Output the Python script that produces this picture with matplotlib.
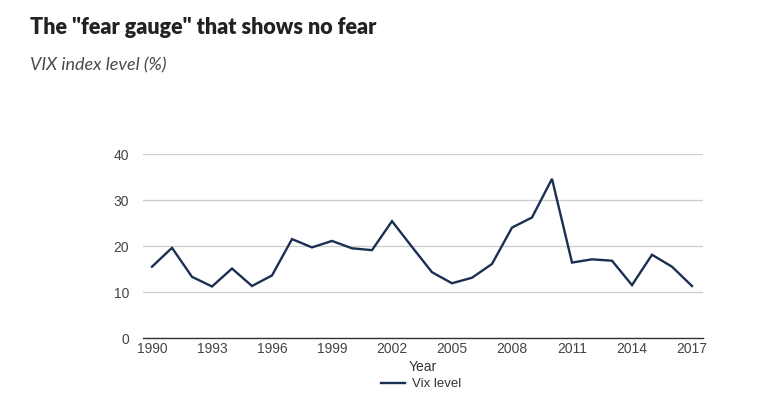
import matplotlib
matplotlib.use("Agg")
import matplotlib.pyplot as plt

years = list(range(1990, 2018))
vix = [15.5, 19.6, 13.3, 11.2, 15.1, 11.3, 13.6, 21.5, 19.7, 21.1, 19.5, 19.1, 25.4,
       19.8, 14.3, 11.9, 13.1, 16.1, 24.0, 26.2, 34.6, 16.4, 17.1, 16.8, 11.5, 18.1, 15.5, 11.3]
xticks = list(range(1990, 2018, 3))
yticks = [0, 10, 20, 30, 40]

W, H = 783, 403
fig = plt.figure(figsize=(W/100, H/100), dpi=100)
ax = fig.add_axes([143/W, 1-338/H, (703-143)/W, (338-154)/H])

line_color = "#1b2f52"
ax.plot(years, vix, color=line_color, lw=1.7, label="Vix level", solid_joinstyle="miter")
ax.set_xlim(1989.55, 2017.55)
ax.set_ylim(0, 40)
ax.set_yticks(yticks)
ax.set_xticks(xticks)
ax.grid(axis="y", color="#cccccc", lw=0.9)
ax.set_axisbelow(True)
for s in ["top", "right", "left"]:
    ax.spines[s].set_visible(False)
ax.spines["bottom"].set_color("#333333")
ax.spines["bottom"].set_linewidth(1.0)
ax.spines["bottom"].set_zorder(3)
ax.tick_params(axis="both", length=0, labelsize=10, labelcolor="#444444", labelfontfamily="Liberation Sans")
ax.tick_params(axis="y", pad=10)
ax.tick_params(axis="x", pad=3)
ax.set_xlabel("Year", fontsize=10, color="#333333", family="Liberation Sans", labelpad=3)

fig.text(30/W, 1-27/H, 'The "fear gauge" that shows no fear', fontsize=15.5, fontweight="heavy",
         color="#222222", family="Lato", va="center", ha="left")
fig.text(30/W, 1-65/H, "VIX index level (%)", fontsize=13, style="italic",
         color="#4a4a4a", family="Lato", va="center", ha="left")

leg = fig.legend(loc="center", bbox_to_anchor=(421/W, 1-384/H), frameon=False,
                 prop={"family": "Liberation Sans", "size": 9.5}, handlelength=1.8, handletextpad=0.5)
for t in leg.get_texts():
    t.set_color("#333333")

fig.savefig("out.png", dpi=100)
